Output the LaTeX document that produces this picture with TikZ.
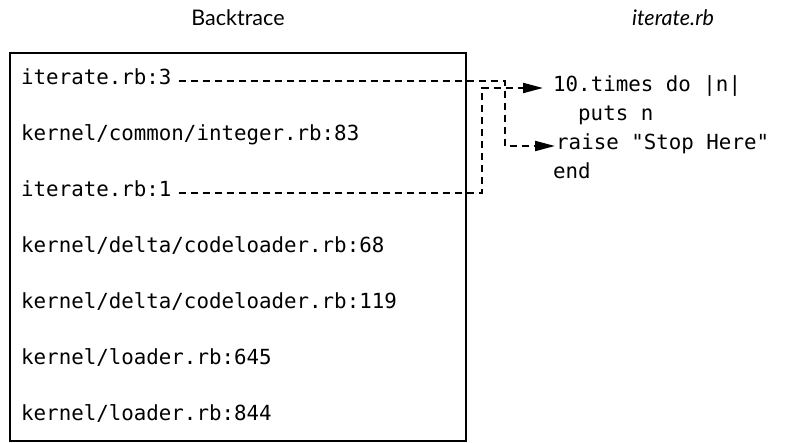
\documentclass[tikz,border=0pt]{standalone}
\usepackage{fontspec}
\setmainfont{Lato}
\setmonofont{DejaVu Sans Mono}
\usetikzlibrary{arrows.meta}

\begin{document}
\begin{tikzpicture}[x=1pt,y=-1pt,
		frame/.style={line width=2pt},
		trace/.style={anchor=west,inner sep=0pt,text height=0.72em,text depth=0pt,
			font=\ttfamily\fontsize{20.8}{24}\selectfont},
		heading/.style={inner sep=0pt,font=\fontsize{21.5}{24}\selectfont},
		link/.style={line width=2pt,dash pattern=on 7pt off 5pt,
			-{Triangle[length=20pt,width=10pt]}}]
			\useasboundingbox (0,0) rectangle (795,443);
			% Headings
			\node[heading] (bthead) at (238,18) {Backtrace};
			\node[heading,font=\fontsize{21.5}{24}\selectfont\itshape] (srchead) at (673,18) {iterate.rb};
			% Backtrace
			\draw[frame] (10,53) rectangle (466,441);
			\node[trace] (bt1) at (21,81) {iterate.rb:3};
			\node[trace] (bt2) at (21,137) {kernel/common/integer.rb:83};
			\node[trace] (bt3) at (21,193) {iterate.rb:1};
			\node[trace] (bt4) at (21,249) {kernel/delta/codeloader.rb:68};
			\node[trace] (bt5) at (21,305) {kernel/delta/codeloader.rb:119};
			\node[trace] (bt6) at (21,361) {kernel/loader.rb:645};
			\node[trace] (bt7) at (21,417) {kernel/loader.rb:844};
			% Source
			\node[trace] (src1) at (553,88) {10.times do |n|};
			\node[trace] (src2) at (578,117) {puts n};
			\node[trace] (src3) at (556,146) {raise "Stop Here"};
			\node[trace] (src4) at (553,175) {end};
			% Jumps
			\coordinate (turn1) at (505,0);
			\coordinate (turn2) at (482,0);
			\draw[link] ([xshift=7pt]bt1.east) -- (bt1.east -| turn1) |- ([xshift=-1pt]src3.west);
			\draw[link] ([xshift=7pt]bt3.east) -- (bt3.east -| turn2) |- ([xshift=-10pt]src1.west);
		\end{tikzpicture}
\end{document}
